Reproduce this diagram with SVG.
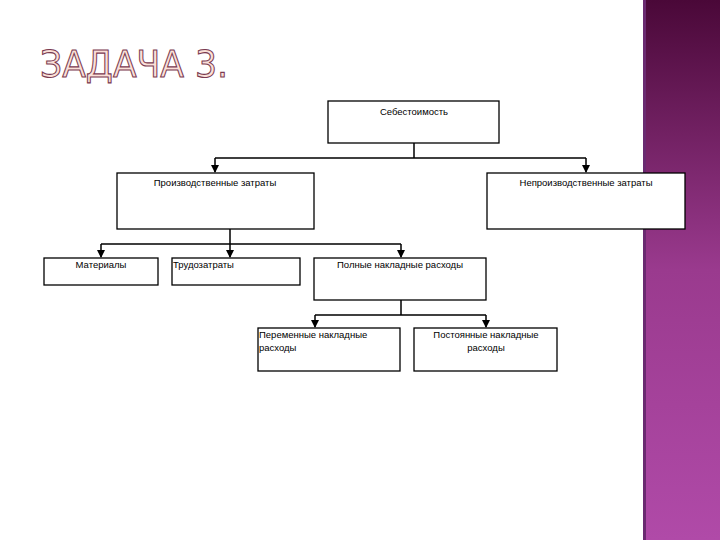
<svg xmlns="http://www.w3.org/2000/svg" width="720" height="540" viewBox="0 0 720 540">
<defs>
<linearGradient id="band" x1="0" y1="0" x2="0" y2="1">
<stop offset="0" stop-color="#4a0838"/>
<stop offset="0.5" stop-color="#9a3a8e"/>
<stop offset="1" stop-color="#b04aa8"/>
</linearGradient>
<style>
.b{fill:#fff;stroke:#000;stroke-width:1.3}
.t{font-family:"Liberation Sans",Arial,sans-serif;font-size:9.5px;fill:#000}
.c{fill:none;stroke:#000;stroke-width:1.5}
.m{text-anchor:middle}
</style>
</defs>
<rect width="720" height="540" fill="#fff"/>
<rect x="643" y="0" width="77" height="540" fill="url(#band)"/>
<rect x="643" y="0" width="3" height="540" fill="#6a2a70"/>
<text x="40" y="77" font-family="DejaVu Sans,sans-serif" font-size="38" textLength="188" lengthAdjust="spacingAndGlyphs" fill="#fbe0d8" stroke="#7a3a50" stroke-width="1.1">ЗАДАЧА 3.</text>
<g id="connectors">
<path class="c" d="M414,143 V158 M215,158 H586 M215,158 V172 M586,158 V172"/>
<path class="c" d="M230,229 V244 M101,244 H401 M101,244 V257 M230,244 V257 M401,244 V257"/>
<path class="c" d="M401,300 V315 M315,315 H486 M315,315 V327 M486,315 V327"/>
<path d="M211,165 h8 l-4,8z M582,165 h8 l-4,8z M97,250 h8 l-4,8z M226,250 h8 l-4,8z M397,250 h8 l-4,8z M311,320 h8 l-4,8z M482,320 h8 l-4,8z" fill="#000"/>
</g>
<g id="n1"><rect class="b" x="328" y="101" width="171" height="42"/><text class="t m" x="414" y="115">Себестоимость</text></g>
<g id="n2"><rect class="b" x="117" y="173" width="197" height="56"/><text class="t m" x="215" y="186">Производственные затраты</text></g>
<g id="n3"><rect class="b" x="487" y="173" width="198" height="56"/><text class="t m" x="586" y="186">Непроизводственные затраты</text></g>
<g id="n4"><rect class="b" x="44" y="258" width="114" height="27"/><text class="t m" x="101" y="268">Материалы</text></g>
<g id="n5"><rect class="b" x="172" y="258" width="128" height="27"/><text class="t" x="173" y="268">Трудозатраты</text></g>
<g id="n6"><rect class="b" x="314" y="258" width="172" height="42"/><text class="t m" x="400" y="268">Полные накладные расходы</text></g>
<g id="n7"><rect class="b" x="258" y="328" width="142" height="43"/><text class="t" x="259" y="338">Переменные накладные</text><text class="t" x="259" y="351">расходы</text></g>
<g id="n8"><rect class="b" x="414" y="328" width="143" height="43"/><text class="t m" x="486" y="338">Постоянные накладные</text><text class="t m" x="486" y="351">расходы</text></g>
</svg>
